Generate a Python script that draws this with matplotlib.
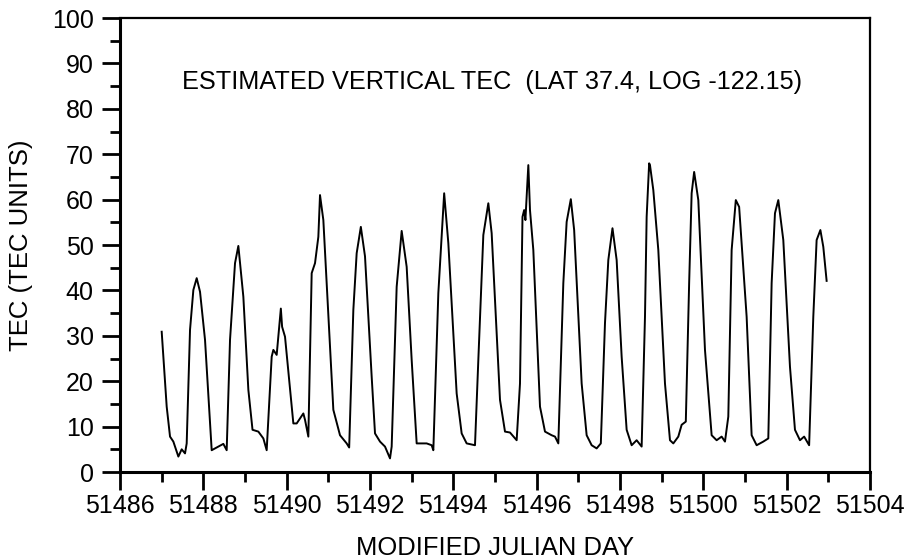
#!/usr/bin/env python3
# -*- coding: utf-8 -*-

import numpy as np
import matplotlib
matplotlib.use('Agg')
import matplotlib.pyplot as plt
from matplotlib.ticker import MultipleLocator

plt.rcParams['font.family'] = ['Liberation Sans', 'DejaVu Sans']

mjd = [51487.00, 51487.12, 51487.20, 51487.28, 51487.40, 51487.48, 51487.56, 51487.60,
       51487.68, 51487.76, 51487.84, 51487.92, 51488.04, 51488.20, 51488.36, 51488.48,
       51488.56, 51488.64, 51488.76, 51488.84, 51488.96, 51489.08, 51489.18, 51489.32,
       51489.44, 51489.52, 51489.64, 51489.68, 51489.76, 51489.86, 51489.89, 51489.96,
       51490.16, 51490.24, 51490.40, 51490.44, 51490.52, 51490.60, 51490.68, 51490.76,
       51490.80, 51490.88, 51490.96, 51491.12, 51491.28, 51491.44, 51491.50, 51491.60,
       51491.68, 51491.78, 51491.88, 51492.04, 51492.12, 51492.24, 51492.36, 51492.48,
       51492.52, 51492.64, 51492.76, 51492.88, 51493.00, 51493.12, 51493.36, 51493.48,
       51493.52, 51493.64, 51493.78, 51493.88, 51494.08, 51494.20, 51494.32, 51494.52,
       51494.60, 51494.72, 51494.84, 51494.92, 51495.12, 51495.24, 51495.36, 51495.52,
       51495.60, 51495.66, 51495.70, 51495.73, 51495.80, 51495.84, 51495.92, 51496.08,
       51496.20, 51496.36, 51496.44, 51496.52, 51496.64, 51496.72, 51496.82, 51496.90,
       51497.08, 51497.20, 51497.32, 51497.44, 51497.54, 51497.64, 51497.72, 51497.82,
       51497.92, 51498.04, 51498.16, 51498.28, 51498.40, 51498.52, 51498.60, 51498.64,
       51498.70, 51498.72, 51498.80, 51498.92, 51499.08, 51499.20, 51499.28, 51499.40,
       51499.48, 51499.58, 51499.66, 51499.72, 51499.78, 51499.88, 51500.04, 51500.20,
       51500.32, 51500.44, 51500.52, 51500.60, 51500.68, 51500.78, 51500.86, 51501.04,
       51501.16, 51501.28, 51501.44, 51501.56, 51501.64, 51501.72, 51501.80, 51501.92,
       51502.08, 51502.20, 51502.32, 51502.42, 51502.54, 51502.64, 51502.72, 51502.81,
       51502.88, 51502.96]
tec = [30.9, 14.4, 7.8, 6.7, 3.4, 5.0, 4.1, 6.3,
       31.3, 40.1, 42.7, 39.7, 29.1, 4.8, 5.6, 6.2,
       4.8, 29.1, 46.0, 49.8, 38.6, 18.1, 9.3, 8.9,
       7.4, 4.8, 25.4, 26.9, 25.8, 36.0, 32.0, 29.8,
       10.7, 10.7, 12.9, 11.5, 7.8, 43.8, 46.0, 51.8,
       61.0, 55.5, 41.6, 13.7, 8.1, 6.3, 5.4, 35.7,
       48.2, 54.0, 47.5, 21.0, 8.5, 6.7, 5.6, 3.0,
       5.6, 40.8, 53.1, 45.2, 24.7, 6.3, 6.3, 5.9,
       4.8, 39.4, 61.4, 50.4, 17.3, 8.5, 6.3, 5.9,
       24.7, 52.2, 59.2, 52.6, 15.9, 8.9, 8.7, 7.0,
       19.5, 56.2, 57.7, 55.5, 67.6, 57.7, 48.9, 14.4,
       8.9, 8.1, 7.8, 6.3, 41.6, 55.1, 60.1, 53.3,
       19.5, 8.1, 5.9, 5.2, 6.3, 32.8, 46.7, 53.7,
       46.7, 25.4, 9.3, 5.9, 7.0, 5.6, 34.2, 56.2,
       68.0, 67.6, 62.1, 48.9, 19.5, 7.0, 6.3, 7.8,
       10.4, 11.1, 41.6, 61.4, 66.1, 59.9, 26.9, 8.1,
       7.0, 7.8, 6.7, 12.2, 48.9, 59.9, 58.4, 34.2,
       8.1, 5.9, 6.7, 7.4, 41.6, 57.0, 59.9, 51.1,
       23.2, 9.3, 7.0, 7.8, 5.9, 34.2, 51.1, 53.3,
       49.6, 42.1]

xticks = list(range(51486, 51505, 2))
yticks = list(range(0, 101, 10))
title = 'ESTIMATED VERTICAL TEC  (LAT 37.4, LOG -122.15)'

fig = plt.figure(figsize=(9.1, 5.58), dpi=100)
ax = fig.add_axes([0.1319, 0.1541, 0.956 - 0.1319, 0.9677 - 0.1541])

ax.plot(mjd, tec, color='black', linewidth=1.4)

ax.set_xlim(51486, 51504)
ax.set_ylim(0, 100)
ax.set_xticks(xticks)
ax.set_yticks(yticks)
ax.xaxis.set_minor_locator(MultipleLocator(1))
ax.yaxis.set_minor_locator(MultipleLocator(5))
ax.ticklabel_format(useOffset=False, style='plain', axis='x')

ax.tick_params(which='major', direction='out', length=13, width=2,
               labelsize=18, top=False, right=False)
ax.tick_params(which='minor', direction='out', length=7, width=2,
               top=False, right=False)
ax.tick_params(axis='x', which='major', pad=3)
ax.tick_params(axis='y', which='major', pad=6)

for side in ['left', 'bottom']:
    ax.spines[side].set_linewidth(2.2)
for side in ['top', 'right']:
    ax.spines[side].set_linewidth(1.6)

ax.text(0.083, 0.86, title, transform=ax.transAxes, fontsize=18.2,
        ha='left', va='center')

ax.set_xlabel('MODIFIED JULIAN DAY', fontsize=18.4)
ax.set_ylabel('TEC (TEC UNITS)', fontsize=18.5)
ax.xaxis.set_label_coords(0.5, -0.14)
ax.yaxis.set_label_coords(-0.116, 0.5)

fig.savefig('out.png', dpi=100)
